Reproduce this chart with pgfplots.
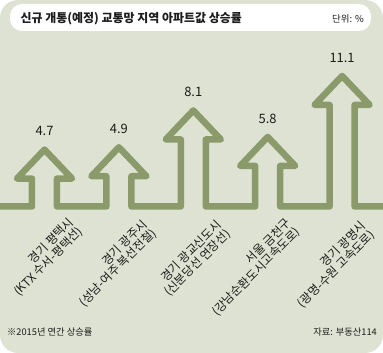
\documentclass[border=0pt]{standalone}
\usepackage{fontspec}
\setmainfont{Noto Sans CJK KR}
\usepackage{pgfplots}
\pgfplotsset{compat=1.18}
\definecolor{panel}{RGB}{222,226,210}
\definecolor{arrowc}{RGB}{139,154,106}
\definecolor{txt}{RGB}{28,28,28}
\begin{document}
\begin{tikzpicture}[x=1bp,y=1bp]
\fill[panel, rounded corners=18bp] (0,0) rectangle (383,353);
\fill[white, rounded corners=12bp] (10,322) rectangle (371,349);
\node[anchor=west, font=\bfseries\fontsize{12}{13}\selectfont, text=txt, inner sep=0pt] at (20.5,334.5) {신규 개통(예정) 교통망 지역 아파트값 상승률};
\node[anchor=east, font=\fontsize{9.5}{11}\selectfont, text=txt, inner sep=0pt] at (364,334.5) {단위: \%};
\node[anchor=west, font=\fontsize{9.3}{11}\selectfont, text=txt, inner sep=0pt] at (7,20.5) {※2015년 연간 상승률};
\node[anchor=east, font=\fontsize{9.3}{11}\selectfont, text=txt, inner sep=0pt] at (377,20.5) {자료: 부동산114};
\begin{axis}[at={(0,0)}, anchor=south west, x=74.4bp, y=11.5bp,
  xmin=-0.598, xmax=4.55, ymin=-12.99, ymax=17.71,
  hide axis, clip=false]
% continuous outline: baseline and five arrows (tips at the values)
\addplot[draw=arrowc, line width=6.5bp, line join=round, line cap=butt, mark=none] coordinates {
 (-0.62,-0.25)
 (-0.168,-0.25) (-0.168,2.18) (-0.37,2.18) (0,4.7) (0.37,2.18) (0.168,2.18) (0.168,-0.25)
 (0.832,-0.25) (0.832,2.38) (0.63,2.38) (1,4.9) (1.37,2.38) (1.168,2.38) (1.168,-0.25)
 (1.832,-0.25) (1.832,5.58) (1.63,5.58) (2,8.1) (2.37,5.58) (2.168,5.58) (2.168,-0.25)
 (2.832,-0.25) (2.832,3.28) (2.63,3.28) (3,5.8) (3.37,3.28) (3.168,3.28) (3.168,-0.25)
 (3.832,-0.25) (3.832,8.58) (3.63,8.58) (4,11.1) (4.37,8.58) (4.168,8.58) (4.168,-0.25)
 (4.57,-0.25)
};
% value labels
\addplot[draw=none, mark=none, nodes near coords, point meta=explicit symbolic,
  nodes near coords style={font=\fontsize{13}{13}\selectfont, text=txt, anchor=base, yshift=13.7bp, inner sep=0pt}]
  coordinates {(0,4.7)[4.7] (1,4.9)[4.9] (2,8.1)[8.1] (3,5.8)[5.8] (4,11.1)[11.1]};
% category labels
\tikzset{catlab/.style={rotate=45, anchor=east, align=right, inner sep=0pt, text=txt, font=\fontsize{12}{12.8}\selectfont}}
\node[catlab] at (axis cs:0.430,-1.86) {경기 평택시\\(KTX 수서-평택선)};
\node[catlab] at (axis cs:1.417,-2.03) {경기 광주시\\(성남-여주 복선전철)};
\node[catlab] at (axis cs:2.417,-2.08) {경기 광교신도시\\(신분당선 연장선)};
\node[catlab] at (axis cs:3.350,-1.90) {서울 금천구\\(강남순환도시고속도로)};
\node[catlab] at (axis cs:4.356,-2.16) {경기 광명시\\(광명-수원 고속도로)};
\end{axis}
\pgfresetboundingbox
\path[use as bounding box] (0,0) rectangle (383,353);
\end{tikzpicture}
\end{document}
